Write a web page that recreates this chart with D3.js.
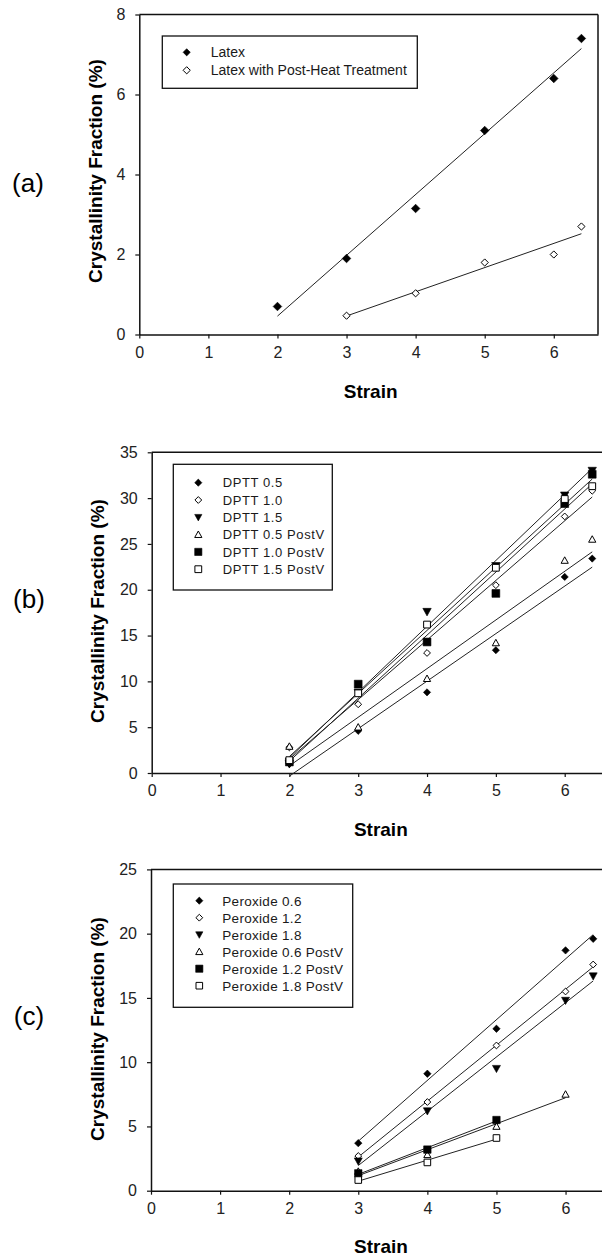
<!DOCTYPE html>
<html><head><meta charset="utf-8">
<script src="https://cdn.jsdelivr.net/npm/d3@7"></script>
<style>
html,body{margin:0;padding:0;background:#fff;}
svg{display:block;font-family:"Liberation Sans",Arial,sans-serif;}
</style></head>
<body>
<svg id="chart" width="602" height="1258"></svg>
<script>
// ---------- DATA ----------
// Panel (a)
const xTicks = [0,1,2,3,4,5,6];
const yTicksA = [0,2,4,6,8];
const strainA = [2,3,4,5,6,6.4];
const latex = [0.7,1.9,3.15,5.1,6.4,7.4];
const strainAPost = [3,4,5,6,6.4];
const latexPost = [0.47,1.03,1.8,2.0,2.7];
const namesA = ["Latex","Latex with Post-Heat Treatment"];

// Panel (b)
const yTicksB = [0,5,10,15,20,25,30,35];
const strainB = [2,3,4,5,6,6.4];
const dptt05  = [1.0,4.6,8.8,13.4,21.4,23.4];
const dptt10  = [2.8,7.5,13.1,20.5,28.0,30.8];
const dptt15  = [1.0,8.8,17.6,22.6,30.3,33.0];
const dptt05P = [2.9,5.0,10.3,14.2,23.2,25.5];
const dptt10P = [1.2,9.7,14.3,19.6,29.4,32.6];
const dptt15P = [1.4,8.7,16.2,22.4,29.9,31.3];
const namesB = ["DPTT 0.5","DPTT 1.0","DPTT 1.5","DPTT 0.5 PostV","DPTT 1.0 PostV","DPTT 1.5 PostV"];

// Panel (c)
const yTicksC = [0,5,10,15,20,25];
const strainC = [3,4,5,6,6.4];
const strainC06P = [3,4,5,6];
const strainCP = [3,4,5];
const perox06  = [3.7,9.1,12.6,18.7,19.6];
const perox12  = [2.7,6.9,11.3,15.5,17.6];
const perox18  = [2.3,6.2,9.5,14.8,16.7];
const perox06P = [1.5,2.8,5.0,7.5];
const perox12P = [1.35,3.2,5.5];
const perox18P = [0.83,2.2,4.1];
const namesC = ["Peroxide 0.6","Peroxide 1.2","Peroxide 1.8","Peroxide 0.6 PostV","Peroxide 1.2 PostV","Peroxide 1.8 PostV"];

const panelLabels = ["(a)","(b)","(c)"];
const xTitle = "Strain";
const yTitle = "Crystallinity Fraction (%)";

// ---------- DRAW ----------
const svg = d3.select("#chart");
const INK = "#111";

function symPath(type, r){
  switch(type){
    case "diamond": return `M0,${-r}L${r},0L0,${r}L${-r},0Z`;
    case "square": return `M${-r},${-r}H${r}V${r}H${-r}Z`;
    case "triUp": return `M0,${-r}L${r},${r*0.8}L${-r},${r*0.8}Z`;
    case "triDown": return `M0,${r}L${r},${-r*0.8}L${-r},${-r*0.8}Z`;
  }
}
function drawSym(g, type, filled, r, x, y){
  g.append("path").attr("d", symPath(type, r))
    .attr("transform", `translate(${x},${y})`)
    .attr("fill", filled ? "#000" : "#fff")
    .attr("stroke", "#000").attr("stroke-width", filled ? 0.6 : 1);
}
function linreg(xs, ys){
  const mx = d3.mean(xs), my = d3.mean(ys);
  let sxy = 0, sxx = 0;
  xs.forEach((x,i)=>{ sxy += (x-mx)*(ys[i]-my); sxx += (x-mx)*(x-mx); });
  const b = sxy/sxx; return {a: my - b*mx, b};
}

const styles = [
  {type:"diamond", filled:true},
  {type:"diamond", filled:false},
  {type:"triDown", filled:true},
  {type:"triUp", filled:false},
  {type:"square", filled:true},
  {type:"square", filled:false}
];

const panels = [
  {
    label: panelLabels[0], labelPos:[28,183],
    xRange:[139.3,598], xMax:6.64, yRange:[334.5,14.5], yMax:8, yTicks:yTicksA,
    frameRight:true, ytitle:[95,171], xtitleY:398,
    series:[
      {x:strainA, y:latex, st:styles[0], r:4.3, name:namesA[0]},
      {x:strainAPost, y:latexPost, st:styles[1], r:3.6, name:namesA[1]}
    ],
    legend:{box:[162.3,36,417.3,88.3], mx:186.7, tx:210.7, y0:52.3, dy:18, fs:14, ls:0}
  },
  {
    label: panelLabels[1], labelPos:[29,599],
    xRange:[151.7,606], xMax:6.6, yRange:[773,452.3], yMax:35, yTicks:yTicksB,
    frameRight:false, ytitle:[97,611], xtitleY:836,
    series:[
      {x:strainB, y:dptt05, st:styles[0], r:3.6, name:namesB[0]},
      {x:strainB, y:dptt10, st:styles[1], r:3.4, name:namesB[1]},
      {x:strainB, y:dptt15, st:styles[2], r:4.2, name:namesB[2]},
      {x:strainB, y:dptt05P, st:styles[3], r:3.6, name:namesB[3]},
      {x:strainB, y:dptt10P, st:styles[4], r:3.9, name:namesB[4]},
      {x:strainB, y:dptt15P, st:styles[5], r:3.4, name:namesB[5]}
    ],
    legend:{box:[173.3,464.3,332.3,590], mx:198.3, tx:222.7, y0:482.7, dy:17.3, fs:13, ls:0.6}
  },
  {
    label: panelLabels[2], labelPos:[29,1016],
    xRange:[151,607], xMax:6.6, yRange:[1190.7,869.4], yMax:25, yTicks:yTicksC,
    frameRight:false, ytitle:[97,1029], xtitleY:1253,
    series:[
      {x:strainC, y:perox06, st:styles[0], r:3.7, name:namesC[0]},
      {x:strainC, y:perox12, st:styles[1], r:3.4, name:namesC[1]},
      {x:strainC, y:perox18, st:styles[2], r:4.0, name:namesC[2]},
      {x:strainC06P, y:perox06P, st:styles[3], r:3.6, name:namesC[3]},
      {x:strainCP, y:perox12P, st:styles[4], r:3.7, name:namesC[4]},
      {x:strainCP, y:perox18P, st:styles[5], r:3.3, name:namesC[5]}
    ],
    legend:{box:[173.3,884,352.7,1007.3], mx:199.3, tx:222.3, y0:900.7, dy:17, fs:13.5, ls:0.3}
  }
];

panels.forEach(p => {
  const g = svg.append("g");
  const x = d3.scaleLinear().domain([0,p.xMax]).range(p.xRange);
  const y = d3.scaleLinear().domain([0,p.yMax]).range(p.yRange);

  // frame top / right
  g.append("line").attr("x1",p.xRange[0]).attr("x2",p.xRange[1])
    .attr("y1",p.yRange[1]).attr("y2",p.yRange[1]).attr("stroke",INK).attr("stroke-width",1.5);
  if (p.frameRight) g.append("line").attr("x1",p.xRange[1]).attr("x2",p.xRange[1])
    .attr("y1",p.yRange[1]).attr("y2",p.yRange[0]).attr("stroke",INK).attr("stroke-width",1.5);

  // axes
  const xa = g.append("g").attr("transform",`translate(0,${p.yRange[0]})`)
    .call(d3.axisBottom(x).tickValues(xTicks).tickSize(4).tickSizeOuter(0).tickPadding(8).tickFormat(d3.format("d")));
  const ya = g.append("g").attr("transform",`translate(${p.xRange[0]},0)`)
    .call(d3.axisLeft(y).tickValues(p.yTicks).tickSize(4).tickSizeOuter(0).tickPadding(10).tickFormat(d3.format("d")));
  [xa,ya].forEach(a=>{
    a.select(".domain").attr("stroke",INK).attr("stroke-width",1.5);
    a.selectAll(".tick line").attr("stroke",INK).attr("stroke-width",1.2);
    a.selectAll(".tick text").attr("fill","#222").style("font-size","16px")
      .style("font-family",'"Liberation Sans",Arial,sans-serif');
  });

  // titles
  g.append("text").attr("x",(p.xRange[0]+p.xRange[1])/2 + 2).attr("y",p.xtitleY)
    .attr("text-anchor","middle").style("font-size","19px").style("font-weight","bold").attr("fill","#000").text(xTitle);
  g.append("text").attr("transform",`translate(${p.ytitle[0]},${p.ytitle[1]}) rotate(-90)`)
    .attr("text-anchor","middle").attr("dy","0.35em")
    .style("font-size","19px").style("font-weight","bold").attr("fill","#000").text(yTitle);
  g.append("text").attr("x",p.labelPos[0]).attr("y",p.labelPos[1]).attr("dy","0.35em")
    .attr("text-anchor","middle").style("font-size","26px").attr("fill","#000").text(p.label);

  // regression lines
  const line = d3.line().x(d=>x(d[0])).y(d=>y(d[1]));
  p.series.forEach(s=>{
    const f = linreg(s.x, s.y);
    const x0 = d3.min(s.x), x1 = d3.max(s.x);
    g.append("path").attr("d", line([[x0, f.a+f.b*x0],[x1, f.a+f.b*x1]]))
      .attr("fill","none").attr("stroke","#222").attr("stroke-width",1);
  });
  // points
  p.series.forEach(s=>{
    s.x.forEach((xv,i)=> drawSym(g, s.st.type, s.st.filled, s.r, x(xv), y(s.y[i])));
  });

  // legend
  const L = p.legend;
  g.append("rect").attr("x",L.box[0]).attr("y",L.box[1])
    .attr("width",L.box[2]-L.box[0]).attr("height",L.box[3]-L.box[1])
    .attr("fill","#fff").attr("stroke",INK).attr("stroke-width",1.3);
  p.series.forEach((s,i)=>{
    const yy = L.y0 + i*L.dy;
    drawSym(g, s.st.type, s.st.filled, Math.min(s.r,3.6), L.mx, yy);
    g.append("text").attr("x",L.tx).attr("y",yy).attr("dy","0.36em")
      .style("font-size",L.fs+"px").style("letter-spacing",L.ls+"px")
      .attr("fill","#1a1a1a").text(s.name);
  });
});
</script>
</body></html>
